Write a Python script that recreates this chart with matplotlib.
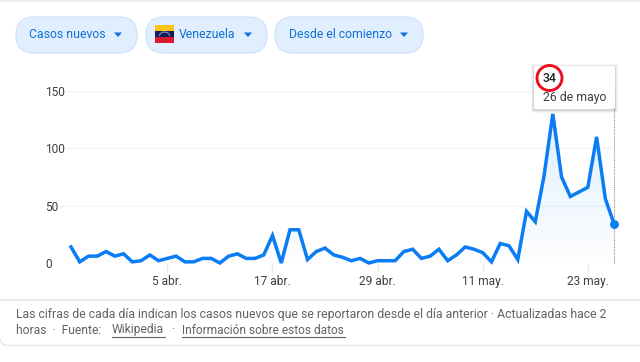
import numpy as np
import matplotlib
matplotlib.use("Agg")
import matplotlib.pyplot as plt
from matplotlib.patches import FancyBboxPatch, Rectangle, Circle, Polygon, Arc

plt.rcParams['font.family'] = ['Roboto', 'Liberation Sans', 'DejaVu Sans']

# ---- data ----
new_cases = [14, 1, 6, 6, 10, 6, 8, 1, 2, 7, 2, 4, 6, 1, 1, 4, 4, 0, 6, 8, 4, 4, 7, 24,
             0, 29, 29, 3, 10, 13, 7, 5, 2, 4, 0, 2, 2, 2, 10, 12, 4, 6, 12, 2, 7, 14,
             12, 9, 1, 17, 15, 3, 45, 36, 76, 130, 75, 58, 62, 66, 110, 56, 34]
tick_days = [11, 23, 35, 47, 59]
tick_labels = ["5 abr.", "17 abr.", "29 abr.", "11 may.", "23 may."]
y_ticks = [0, 50, 100, 150]
pill_labels = ["Casos nuevos", "Venezuela", "Desde el comienzo"]
tooltip_value = "34"
tooltip_date = "26 de mayo"
footer_1 = "Las cifras de cada día indican los casos nuevos que se reportaron desde el día anterior · Actualizadas hace 2"
footer_2 = "horas  ·  Fuente:"
footer_link_1 = "Wikipedia"
footer_link_2 = "Información sobre estos datos"

W, H = 640, 362
BLUE = "#0a7df5"
TEXT = "#3c4043"
PILL_TEXT = "#1170d8"

fig = plt.figure(figsize=(W / 100, H / 100), dpi=100, facecolor="white")

# ---- chart axes ----
L, R, T, B = 60, 614, 91, 263
ax = fig.add_axes([L / W, 1 - B / H, (R - L) / W, (B - T) / H], zorder=2)
ax.patch.set_alpha(0)
px_per_day = 8.76
x0 = 71
days = np.arange(len(new_cases))
values = np.array(new_cases, dtype=float)
for s in ax.spines.values():
    s.set_visible(False)
ax.set_yticks(y_ticks)
ax.set_yticklabels([str(v) for v in y_ticks], ha="left", color=TEXT, fontsize=8.6)
ax.tick_params(axis="y", length=0, pad=10.8)
ax.set_xticks(tick_days)
ax.set_xticklabels(tick_labels, color=TEXT, fontsize=8.6)
ax.tick_params(axis="x", length=6, width=1, color="#e8eaed", pad=2.5)
ax.grid(axis="y", color="#f3f4f5", lw=1)
ax.set_axisbelow(True)

# gradient below the line
grad = np.zeros((64, 2, 4))
grad[..., 0] = 0.04
grad[..., 1] = 0.48
grad[..., 2] = 0.94
grad[..., 3] = np.linspace(0.13, 0.01, 64)[:, None]
poly = ax.fill_between(days, values, 0, color="none", lw=0)
im = ax.imshow(grad, extent=[days[0], days[-1], 0, values.max()], aspect="auto",
               origin="upper", zorder=1.5)
im.set_clip_path(poly.get_paths()[0], transform=ax.transData)
ax.set_xlim((L - x0) / px_per_day, (R - x0) / px_per_day)
ax.set_ylim(0, 150)

ax.plot(days, values, color=BLUE, lw=2.5, solid_joinstyle="miter", clip_on=False, zorder=3)
ax.plot(days[-1], values[-1], "o", color=BLUE, ms=6.4, mew=0, clip_on=False, zorder=4)
ax.plot([days[-1], days[-1]], [0, 150], color="#8a8f94", lw=0.8, ls=(0, (1, 1)), clip_on=False, zorder=2)

# ---- page furniture, in pixel coordinates ----
ov = fig.add_axes([0, 0, 1, 1], zorder=3)
ov.set_xlim(0, W)
ov.set_ylim(H, 0)
ov.axis("off")

ov.plot([0, W], [0.5, 0.5], color="#ececec", lw=1.2)

# pills
pills = [(16, 137, 29, 114), (146, 267, 179, 244), (275, 423, 289, 400)]
for (a, b, tx, tri), lab in zip(pills, pill_labels):
    ov.add_patch(FancyBboxPatch((a + 18, 17 + 18), b - a - 36, 0.01,
                                boxstyle="round,pad=18,rounding_size=18",
                                fc="#e1eefd", ec="#d2e5fb", lw=1))
    ov.text(tx, 35, lab, color=PILL_TEXT, fontsize=8.85, va="center", ha="left")
    ov.add_patch(Polygon([(tri, 32.5), (tri + 8, 32.5), (tri + 4, 37)], fc=PILL_TEXT, ec="none"))

# flag
ov.add_patch(Rectangle((155, 25), 19, 6, fc="#fcc419", ec="none"))
ov.add_patch(Rectangle((155, 31), 19, 6, fc="#10205f", ec="none"))
ov.add_patch(Rectangle((155, 37), 19, 6.3, fc="#d8182c", ec="none"))
ov.add_patch(Arc((164.5, 36), 10, 8, theta1=180, theta2=360, color="#8fa0c8", lw=0.7))

# tooltip
for i, a in zip((3, 2, 1), (0.035, 0.05, 0.08)):
    ov.add_patch(FancyBboxPatch((534 - i, 66 - i + 1), 81 + 2 * i, 43 + 2 * i,
                                boxstyle="round,pad=0,rounding_size=2", fc="black", ec="none", alpha=a))
ov.add_patch(FancyBboxPatch((534, 66), 81, 43, boxstyle="round,pad=0,rounding_size=2",
                            fc="white", ec="none"))
ov.text(549.5, 78.5, tooltip_value, color="#202124", fontsize=8.8, ha="center", va="center", fontweight="medium")
ov.text(543, 98, tooltip_date, color=TEXT, fontsize=8.8, ha="left", va="center")
ov.add_patch(Circle((549.5, 78), 12.5, fc="none", ec="#ea0f1e", lw=2.1))

# footer card
ov.plot([0, W], [300, 300], color="#e8eaed", lw=1.6)
ov.plot([6, W], [345, 345], color="#e4e6e8", lw=1)
ov.add_patch(Arc((6, 339), 12, 12, theta1=90, theta2=180, color="#e4e6e8", lw=1))
ov.text(16, 314.5, footer_1, color="#5f6368", fontsize=8.8, va="center", ha="left")
ov.text(16, 330, footer_2, color="#5f6368", fontsize=8.7, va="center", ha="left")
ov.text(112, 330, footer_link_1, color="#5f6368", fontsize=8.7, va="center", ha="left")
ov.text(182, 330, footer_link_2, color="#5f6368", fontsize=8.6, va="center", ha="left")
ov.text(173, 330, "·", color="#5f6368", fontsize=8.7, va="center", ha="center")
ov.plot([112, 165], [336.5, 336.5], color="#5f6368", lw=0.8)
ov.plot([182, 345], [336.5, 336.5], color="#5f6368", lw=0.8)

fig.savefig("out.png", dpi=100)
